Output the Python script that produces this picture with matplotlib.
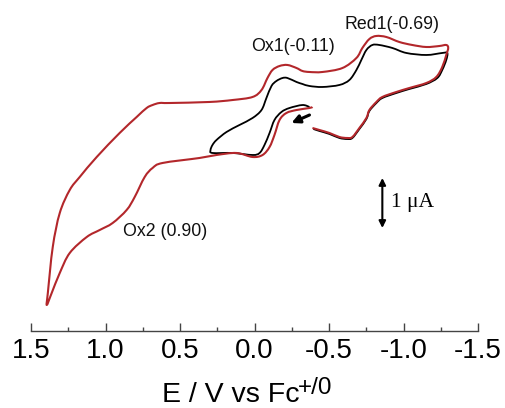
import matplotlib
matplotlib.use("Agg")
import matplotlib.pyplot as plt
from matplotlib.path import Path
from matplotlib.patches import PathPatch

# Red curve: full scan to +1.4 V (E / V vs Fc+/0, current / uA, arbitrary zero)
red_E = [-0.389, -0.369, -0.282, -0.214, -0.168, -0.134, -0.101, -0.054, 0.013, 0.121,
         0.255, 0.369, 0.617, 0.684, 0.737, 0.804, 0.858, 0.952, 1.039, 1.126,
         1.240, 1.307, 1.361, 1.394,
         1.387, 1.354, 1.307, 1.240, 1.173, 1.059, 0.905, 0.791, 0.724, 0.684,
         0.637, 0.570, 0.302, 0.147, 0.013, -0.047, -0.087, -0.121, -0.168, -0.221,
         -0.282, -0.322, -0.369, -0.456, -0.590, -0.684, -0.724, -0.771, -0.818, -0.885,
         -0.972, -1.059, -1.153, -1.240, -1.287, -1.300,
         -1.287, -1.260, -1.220, -1.153, -1.039, -0.952, -0.858, -0.818, -0.771, -0.751,
         -0.704, -0.657, -0.623, -0.570, -0.503, -0.436, -0.389]
red_I = [0.878, 0.857, 0.816, 0.755, 0.612, 0.306, 0.061, -0.102, -0.143, -0.061,
         -0.102, -0.163, -0.265, -0.367, -0.551, -0.959, -1.224, -1.490, -1.633, -1.776,
         -2.102, -2.510, -2.918, -3.163,
         -2.918, -1.980, -1.286, -0.816, -0.551, -0.143, 0.347, 0.673, 0.857, 0.918,
         0.959, 0.959, 0.980, 1.020, 1.082, 1.224, 1.469, 1.633, 1.714, 1.735,
         1.673, 1.612, 1.592, 1.592, 1.673, 1.878, 2.082, 2.265, 2.327, 2.306,
         2.204, 2.143, 2.102, 2.122, 2.143, 2.082,
         1.939, 1.694, 1.490, 1.367, 1.265, 1.184, 1.082, 0.980, 0.816, 0.653,
         0.449, 0.265, 0.245, 0.265, 0.347, 0.408, 0.449]

# Black curve: scan limited to +0.3 V
blk_E = [-0.369, -0.322, -0.235, -0.181, -0.134, -0.101, -0.067, -0.034, 0.013, 0.147,
         0.282, 0.295, 0.282, 0.255, 0.188, 0.101, 0.013, -0.047, -0.080, -0.114,
         -0.147, -0.188, -0.221, -0.282, -0.322, -0.369, -0.456, -0.570, -0.637, -0.684,
         -0.717, -0.751, -0.791, -0.838, -0.925, -1.019, -1.153, -1.260, -1.294,
         -1.287, -1.260, -1.227, -1.153, -1.039, -0.952, -0.858, -0.818, -0.771, -0.751,
         -0.704, -0.657, -0.623, -0.570, -0.503, -0.436, -0.395]
blk_I = [0.878, 0.918, 0.857, 0.776, 0.612, 0.347, 0.102, -0.061, -0.102, -0.061,
         -0.061, 0.000, 0.102, 0.204, 0.367, 0.510, 0.653, 0.816, 1.061, 1.306,
         1.408, 1.469, 1.469, 1.388, 1.347, 1.306, 1.286, 1.327, 1.429, 1.633,
         1.837, 2.041, 2.143, 2.143, 2.082, 1.980, 1.939, 1.980, 1.980,
         1.837, 1.633, 1.469, 1.347, 1.245, 1.163, 1.061, 0.959, 0.796, 0.633,
         0.429, 0.245, 0.224, 0.245, 0.327, 0.388, 0.429]

x_ticks = [1.5, 1.0, 0.5, 0.0, -0.5, -1.0, -1.5]
x_ticklabels = ["1.5", "1.0", "0.5", "0.0", "-0.5", "-1.0", "-1.5"]

labels = ["Ox1(-0.11)", "Red1(-0.69)", "Ox2 (0.90)"]
label_E = [-0.261, -0.925, 0.597]
label_I = [2.122, 2.571, -1.673]

scale_E = -0.858
scale_I = [-0.571, -1.592]   # 1 uA bar
scan_arrow_E = [-0.369, -0.248]
scan_arrow_I = [0.714, 0.551]


def smooth_path(xs, ys, tension=1.0 / 6.0):
    """Catmull-Rom rendering of the read points as cubic Bezier segments."""
    pts = list(zip(xs, ys))
    verts = [pts[0]]
    codes = [Path.MOVETO]
    n = len(pts)
    for k in range(n - 1):
        p0 = pts[k - 1] if k > 0 else pts[k]
        p1 = pts[k]
        p2 = pts[k + 1]
        p3 = pts[k + 2] if k + 2 < n else pts[k + 1]
        c1 = (p1[0] + (p2[0] - p0[0]) * tension, p1[1] + (p2[1] - p0[1]) * tension)
        c2 = (p2[0] - (p3[0] - p1[0]) * tension, p2[1] - (p3[1] - p1[1]) * tension)
        verts += [c1, c2, p2]
        codes += [Path.CURVE4] * 3
    return Path(verts, codes)


W, H = 505, 408
fig = plt.figure(figsize=(W / 100, H / 100), dpi=100)
ax = fig.add_axes([31 / W, 77 / H, (478 - 31) / W, 321 / H])
ax.set_xlim(1.5, -1.5)
ax.set_ylim(-3.694, 2.857)

ax.add_patch(PathPatch(smooth_path(blk_E, blk_I), facecolor="none",
                       edgecolor="black", lw=1.3, joinstyle="round"))
ax.add_patch(PathPatch(smooth_path(red_E, red_I), facecolor="none",
                       edgecolor="#b3272b", lw=1.5, joinstyle="round"))

for t, e, i in zip(labels, label_E, label_I):
    ax.text(e, i, t, ha="center", va="center", fontsize=12.8,
            family="Liberation Sans", color="#111111")

ax.annotate("", xy=(scale_E, scale_I[1]), xytext=(scale_E, scale_I[0]),
            arrowprops=dict(arrowstyle="<|-|>", color="black", lw=1.5,
                            mutation_scale=10, shrinkA=0, shrinkB=0))
ax.text(scale_E - 0.06, sum(scale_I) / 2, "1 \u03bcA", ha="left", va="center",
        fontsize=15.5, family="Liberation Serif")

ax.annotate("", xy=(scan_arrow_E[1], scan_arrow_I[1]),
            xytext=(scan_arrow_E[0], scan_arrow_I[0]),
            arrowprops=dict(arrowstyle="-|>", color="black", lw=2.2,
                            mutation_scale=12, shrinkA=0, shrinkB=0))

for s in ["top", "left", "right"]:
    ax.spines[s].set_visible(False)
ax.spines["bottom"].set_color("#444444")
ax.spines["bottom"].set_linewidth(1.0)
ax.set_yticks([])
ax.set_xticks(x_ticks)
ax.set_xticklabels(x_ticklabels, fontsize=20, family="Liberation Sans")
ax.set_xticks([1.25, 0.75, 0.25, -0.25, -0.75, -1.25], minor=True)
ax.tick_params(axis="x", which="major", direction="in", length=6, width=1,
               color="#444444", pad=5)
ax.tick_params(axis="x", which="minor", direction="in", length=3, width=1,
               color="#444444")

fig.text(162 / W, 6 / H, "E / V vs Fc", fontsize=20.5, family="Liberation Sans",
         ha="left", va="baseline")
fig.text(298 / W, 14 / H, "+/0", fontsize=17.5, family="Liberation Sans",
         ha="left", va="baseline")

fig.savefig("out.png", dpi=100)
